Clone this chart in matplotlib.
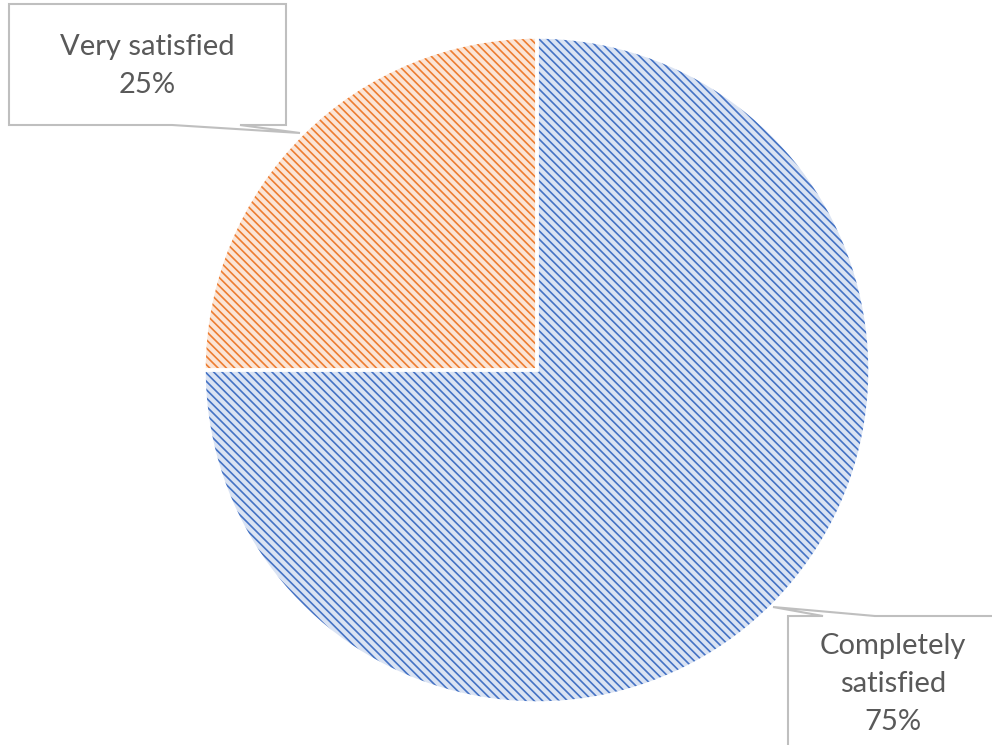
import matplotlib.pyplot as plt
from matplotlib.patches import Polygon

labels = ['Completely satisfied', 'Very satisfied']
shares = [75, 25]
face_colors = ['#DAE3F3', '#FBE5D6']
hatch_colors = ['#4472C4', '#ED7D31']

W, H = 992, 745
plt.rcParams['hatch.linewidth'] = 1.2

fig = plt.figure(figsize=(W / 100, H / 100), dpi=100)
ax = fig.add_axes([0, 0, 1, 1])

# pie centre / radius in image pixels (y measured from top)
cx, cy, r = 537, 370, 333

wedges, _ = ax.pie(shares, startangle=90, counterclock=False,
                   center=(cx, H - cy), radius=r, frame=True,
                   colors=face_colors,
                   wedgeprops=dict(linewidth=0))
for w, hc in zip(wedges, hatch_colors):
    w.set_hatch('\\' * 4)
    w.set_edgecolor(hc)
    w.set_linewidth(0)
# white borders between slices
ax.pie(shares, startangle=90, counterclock=False, center=(cx, H - cy),
       radius=r, frame=True, colors=['none', 'none'],
       wedgeprops=dict(linewidth=2.5, edgecolor='white'))
ax.set_xlim(0, W)
ax.set_ylim(0, H)
ax.set_aspect('equal')
ax.axis('off')


def callout(pts):
    poly = Polygon([(x, H - y) for x, y in pts], closed=True,
                   facecolor='white', edgecolor='#BFBFBF', linewidth=1.5,
                   zorder=5)
    ax.add_patch(poly)


callout([(9, 4), (286, 4), (286, 125), (240, 125), (300, 133),
         (172, 125), (9, 125)])
callout([(788, 616), (823, 616), (773, 607), (875, 616), (1000, 616),
         (1000, 760), (788, 760)])

txt = dict(ha='center', va='center', color='#595959', fontsize=21,
           family='Lato', linespacing=1.55, zorder=6)
ax.text(147, H - 66, '%s\n%d%%' % (labels[1], shares[1]), **txt)
ax.text(893, H - 684, 'Completely\nsatisfied\n%d%%' % shares[0], **txt)

fig.savefig('out.png', dpi=100)
